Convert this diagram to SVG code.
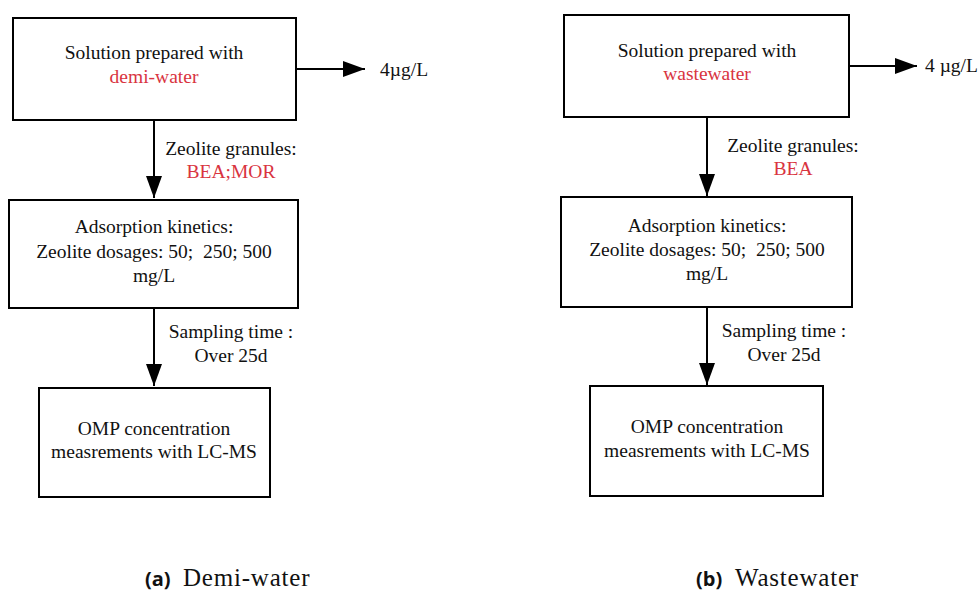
<svg xmlns="http://www.w3.org/2000/svg" width="979" height="592" viewBox="0 0 979 592">
<style>
.box{fill:#fff;stroke:#000;stroke-width:2}
.t{font-family:"Liberation Serif","Times New Roman",serif;font-size:19.5px;fill:#111;text-anchor:middle}
.r{fill:#d9343f}
.ln{stroke:#000;stroke-width:2;fill:none}
.capb{font-family:"Open Sans","DejaVu Sans",sans-serif;font-weight:bold;font-size:20px;fill:#111}
</style>
<defs>
<marker id="ah" markerWidth="22" markerHeight="16" refX="22" refY="8" orient="auto" markerUnits="userSpaceOnUse">
<path d="M0,0 L22,8 L0,16 Z" fill="#000"/>
</marker>
</defs>
<rect width="979" height="592" fill="#fff"/>
<g id="connectors">
<line class="ln" x1="296" y1="69" x2="365" y2="69" marker-end="url(#ah)"/>
<line class="ln" x1="154" y1="120" x2="154" y2="198" marker-end="url(#ah)"/>
<line class="ln" x1="154" y1="308" x2="154" y2="386" marker-end="url(#ah)"/>
<line class="ln" x1="849" y1="66" x2="917" y2="66" marker-end="url(#ah)"/>
<line class="ln" x1="707" y1="117" x2="707" y2="196" marker-end="url(#ah)"/>
<line class="ln" x1="707" y1="307" x2="707" y2="385" marker-end="url(#ah)"/>
<text class="t" x="380" y="76" style="text-anchor:start">4µg/L</text>
<text class="t" x="231" y="155">Zeolite granules:</text>
<text class="t r" x="231" y="178">BEA;MOR</text>
<text class="t" x="231" y="338">Sampling time :</text>
<text class="t" x="231" y="362">Over 25d</text>
<text class="t" x="925" y="72" style="text-anchor:start">4 µg/L</text>
<text class="t" x="793" y="152">Zeolite granules:</text>
<text class="t r" x="793" y="175">BEA</text>
<text class="t" x="784" y="337">Sampling time :</text>
<text class="t" x="784" y="361">Over 25d</text>
</g>
<g id="a-solution">
<rect class="box" x="13" y="18" width="283" height="102"/>
<text class="t" x="154" y="59">Solution prepared with</text>
<text class="t r" x="154" y="83">demi-water</text>
</g>
<g id="a-adsorption">
<rect class="box" x="9" y="200" width="289" height="108"/>
<text class="t" x="154" y="233">Adsorption kinetics:</text>
<text class="t" x="154" y="258" xml:space="preserve">Zeolite dosages: 50;  250; 500</text>
<text class="t" x="154" y="282">mg/L</text>
</g>
<g id="a-omp">
<rect class="box" x="39" y="388" width="231" height="109"/>
<text class="t" x="154" y="435">OMP concentration</text>
<text class="t" x="154" y="458">measrements with LC-MS</text>
</g>
<g id="b-solution">
<rect class="box" x="564" y="15" width="285" height="102"/>
<text class="t" x="707" y="57">Solution prepared with</text>
<text class="t r" x="707" y="80">wastewater</text>
</g>
<g id="b-adsorption">
<rect class="box" x="561" y="197" width="291" height="110"/>
<text class="t" x="707" y="232">Adsorption kinetics:</text>
<text class="t" x="707" y="256" xml:space="preserve">Zeolite dosages: 50;  250; 500</text>
<text class="t" x="707" y="280">mg/L</text>
</g>
<g id="b-omp">
<rect class="box" x="590" y="386" width="233" height="110"/>
<text class="t" x="707" y="433">OMP concentration</text>
<text class="t" x="707" y="457">measrements with LC-MS</text>
</g>
<g id="captions">
<text class="capb" x="145" y="586">(a)</text>
<text class="t" x="183" y="586" style="text-anchor:start;font-size:25px;letter-spacing:0.8px">Demi-water</text>
<text class="capb" x="696" y="586">(b)</text>
<text class="t" x="735" y="586" style="text-anchor:start;font-size:25px;letter-spacing:0.8px">Wastewater</text>
</g>
</svg>
